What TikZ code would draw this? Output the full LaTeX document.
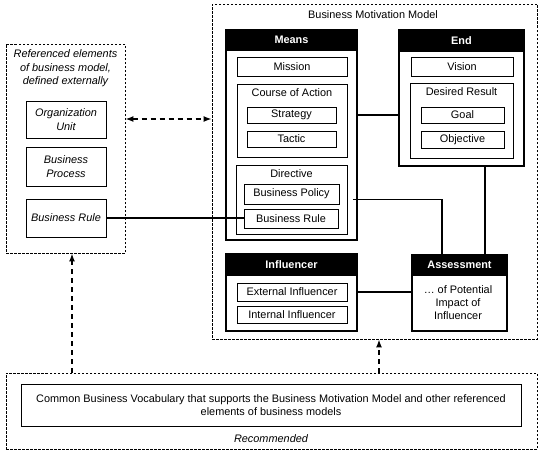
\documentclass[tikz,border=0pt]{standalone}
\usepackage{fontspec}
\setmainfont{Liberation Sans}
\usetikzlibrary{arrows.meta}
\newcommand{\fs}{\fontsize{10.9}{13}\selectfont}
\begin{document}
\begin{tikzpicture}[x=1pt,y=-1pt,
  every node/.style={font=\fs},
  box/.style={draw, line width=0.9pt, inner sep=0pt, minimum width=#1},
  outer/.style={draw, line width=1.3pt, inner sep=0pt},
  header/.style={fill=black, draw=black, line width=1.3pt, text=white, font=\fs\bfseries, inner sep=0pt},
  container/.style={draw, dash pattern=on 2.5pt off 1.5pt, line width=0.8pt, inner sep=0pt},
  conn/.style={line width=1.3pt},
  dasharrow/.style={line width=1.6pt, dash pattern=on 5pt off 4pt, -{Latex[length=8pt,width=6pt]}}
]
\useasboundingbox (0,0) rectangle (551,455);

% Left container
\node[container, minimum width=119pt, minimum height=209pt] (left) at (65.5,148.5) {};
\node[align=center, font=\fontsize{10.9}{13.5}\selectfont\itshape] (lefttitle) at (65.5,68.5) {Referenced elements\\of business model,\\defined externally};
\node[box=80pt, minimum height=37pt, align=center, font=\fontsize{10.9}{13.5}\selectfont\itshape] (ou) at (66,119.5) {Organization\\Unit};
\node[box=80pt, minimum height=39pt, align=center, font=\fontsize{10.9}{13.5}\selectfont\itshape] (bp) at (66,166.5) {Business\\Process};
\node[box=80pt, minimum height=38pt, font=\fontsize{10.9}{13.5}\selectfont\itshape] (brl) at (66,218) {Business Rule};

% BMM container
\node[container, minimum width=325pt, minimum height=335pt] (bmm) at (374.5,171.5) {};
\node (bmmtitle) at (373,14.5) {Business Motivation Model};

% Means
\node[outer, minimum width=131pt, minimum height=210pt] (means) at (291.5,135) {};
\node[header, minimum width=131pt, minimum height=20pt] (meansh) at (291.5,40) {Means};
\node[box=110pt, minimum height=19pt] (mission) at (292,66.5) {Mission};
\node[box=110pt, minimum height=73pt, label={[anchor=north, inner sep=0pt, yshift=-5pt]north:Course of Action}] (coa) at (292,120.5) {};
\node[box=89pt, minimum height=16pt] (strategy) at (291.5,115) {Strategy};
\node[box=89pt, minimum height=16pt] (tactic) at (291.5,139) {Tactic};
\node[box=111pt, minimum height=69pt, label={[anchor=north, inner sep=0pt, yshift=-5pt]north:Directive}] (directive) at (291.5,199.5) {};
\node[box=95pt, minimum height=20pt] (policy) at (291.5,194) {Business Policy};
\node[box=94pt, minimum height=19pt] (bri) at (291,218.5) {Business Rule};

% End
\node[outer, minimum width=125pt, minimum height=136pt] (end) at (461.5,98) {};
\node[header, minimum width=125pt, minimum height=21pt] (endh) at (461.5,40.5) {End};
\node[box=102pt, minimum height=19pt] (vision) at (462,66.5) {Vision};
\node[box=103pt, minimum height=75pt, label={[anchor=north, inner sep=0pt, yshift=-5pt]north:Desired Result}] (dr) at (461.5,120.5) {};
\node[box=83pt, minimum height=16pt] (goal) at (462.5,115) {Goal};
\node[box=83pt, minimum height=17pt] (objective) at (462.5,139.5) {Objective};

% Influencer
\node[outer, minimum width=131pt, minimum height=77pt] (infl) at (291.5,292.5) {};
\node[header, minimum width=131pt, minimum height=21pt] (inflh) at (291.5,264.5) {Influencer};
\node[box=110pt, minimum height=18pt] (ext) at (292,292) {External Influencer};
\node[box=110pt, minimum height=17pt] (int) at (292,314.5) {Internal Influencer};

% Assessment
\node[outer, minimum width=95pt, minimum height=76pt] (assess) at (459.5,293) {};
\node[header, minimum width=95pt, minimum height=20pt] (assessh) at (459.5,265) {Assessment};
\node[align=center, font=\fontsize{10.9}{13}\selectfont] (assesstxt) at (458,303) {\dots\ of Potential\\Impact of\\Influencer};

% Bottom container
\node[container, minimum width=531pt, minimum height=76pt] (bottom) at (271.5,411) {};
\node[box=500pt, minimum height=42pt, align=center] (cbv) at (271,405) {Common Business Vocabulary that supports the Business Motivation Model and other referenced\\elements of business models};
\node[font=\fs\itshape] (rec) at (271,438.5) {Recommended};

% Connectors
\draw[conn] (means.east |- strategy) -- (end.west |- strategy);
\draw[conn] ([xshift=25.5pt]assess.north |- end.south) -- ([xshift=25.5pt]assess.north);
\draw[conn] ([xshift=6pt]directive.east) -| ([xshift=-17.5pt]assess.north);
\draw[conn] (infl.east |- ext) -- (assess.west |- ext);
\draw[conn] (brl.east) -- (brl.east -| bri.west);

\coordinate (dy) at (0,119);
\draw[line width=1.6pt, dash pattern=on 5pt off 4pt, {Latex[length=8pt,width=6pt]}-{Latex[length=8pt,width=6pt]}] (left.east |- dy) -- (bmm.west |- dy);
\coordinate (ax) at (72,0);
\coordinate (bx) at (379,0);
\draw[dasharrow] (bottom.north -| ax) -- (left.south -| ax);
\draw[dasharrow] (bottom.north -| bx) -- (bmm.south -| bx);
\end{tikzpicture}
\end{document}
